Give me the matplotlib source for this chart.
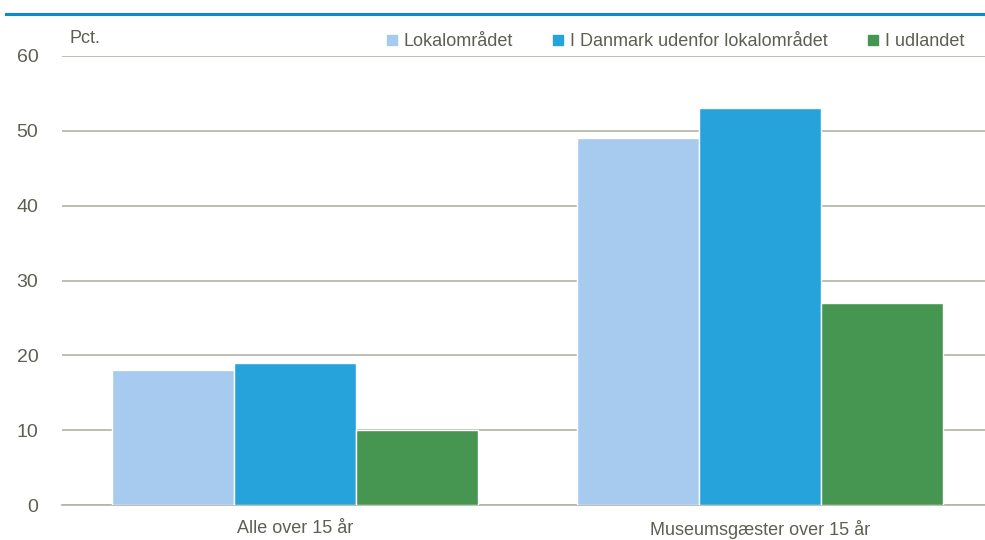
import matplotlib
matplotlib.use("Agg")
import matplotlib.pyplot as plt
from matplotlib.lines import Line2D
import numpy as np

plt.rcParams['font.family'] = ['Liberation Sans Narrow', 'Liberation Sans', 'DejaVu Sans']

categories = ["Alle over 15 år", "Museumsgæster over 15 år"]
series = ["Lokalområdet", "I Danmark udenfor lokalområdet", "I udlandet"]
lokal = [18, 49]
danmark = [19, 53]
udland = [10, 27]
colors = ["#a6cbee", "#27a3dc", "#469651"]
yticks = [0, 10, 20, 30, 40, 50, 60]

text_col = "#5e5e54"
grid_col = "#b3b3a6"

fig = plt.figure(figsize=(9.85, 5.4), dpi=100)
ax = fig.add_axes([62 / 985, 1 - 505 / 540, 1 - 62 / 985, (505 - 56) / 540])

x = np.arange(len(categories))
w = 0.262
for i, (vals, c) in enumerate(zip([lokal, danmark, udland], colors)):
    ax.bar(x + (i - 1) * w, vals, w, color=c, edgecolor="white", linewidth=1,
           label=series[i], zorder=3)

ax.set_xlim(-0.501, 1.484)
ax.set_ylim(0, 60)
ax.set_yticks(yticks)
ax.yaxis.grid(True, color=grid_col, linewidth=1.2, zorder=0)
ax.set_axisbelow(True)
for s in ["top", "right", "left"]:
    ax.spines[s].set_visible(False)
ax.spines["bottom"].set_color(grid_col)
ax.spines["bottom"].set_linewidth(1.2)
ax.tick_params(axis="both", length=0, labelsize=13, colors=text_col)
ax.tick_params(axis="x", pad=11)
ax.tick_params(axis="y", labelsize=14, pad=17)
ax.set_xticks(x)
ax.set_xticklabels(categories)

ax.text(0.008, 1.02, "Pct.", transform=ax.transAxes, fontsize=13,
        color=text_col, va="bottom", ha="left")

handles = [Line2D([], [], marker="s", linestyle="none", markersize=6.5,
                  markerfacecolor=c, markeredgecolor=c) for c in colors]
leg = ax.legend(handles, series, loc="lower right", bbox_to_anchor=(0.985, 0.997),
                ncol=3, frameon=False, fontsize=13, handletextpad=0.15,
                columnspacing=2.0, handlelength=1.0, borderaxespad=0.0)
for t in leg.get_texts():
    t.set_color(text_col)

fig.add_artist(Line2D([6 / 985, 1], [1 - 14 / 540, 1 - 14 / 540],
                      color="#0a8bd0", linewidth=2.2, transform=fig.transFigure))

fig.savefig("out.png", dpi=100)
